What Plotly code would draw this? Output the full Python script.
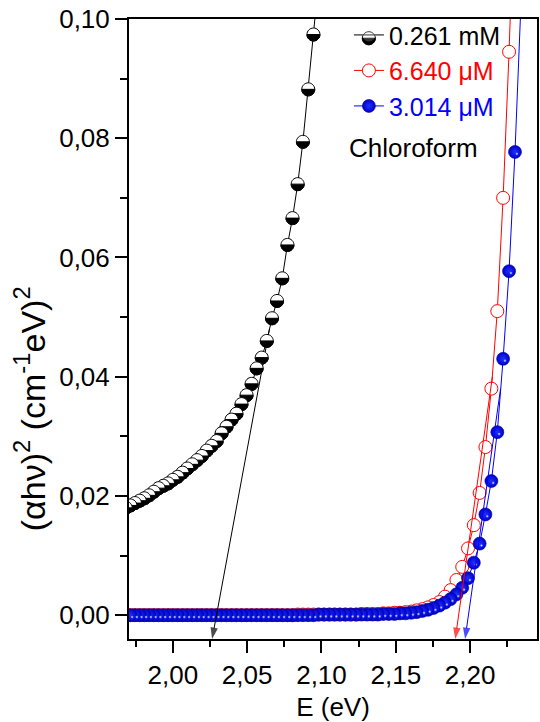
import plotly.graph_objects as go

# Photon energy grid (eV), one point per nanometre from 555 nm to 630 nm
energy = [2.2342, 2.2302, 2.2262, 2.2222, 2.2183, 2.2143, 2.2103, 2.2064, 2.2025, 2.1986,
          2.1947, 2.1908, 2.1869, 2.1831, 2.1793, 2.1754, 2.1716, 2.1678, 2.1640, 2.1603,
          2.1565, 2.1528, 2.1491, 2.1453, 2.1416, 2.1379, 2.1343, 2.1306, 2.1269, 2.1233,
          2.1197, 2.1160, 2.1124, 2.1088, 2.1053, 2.1017, 2.0981, 2.0946, 2.0911, 2.0875,
          2.0840, 2.0805, 2.0771, 2.0736, 2.0701, 2.0667, 2.0632, 2.0598, 2.0564, 2.0530,
          2.0496, 2.0462, 2.0428, 2.0395, 2.0361, 2.0328, 2.0295, 2.0261, 2.0228, 2.0195,
          2.0163, 2.0130, 2.0097, 2.0065, 2.0032, 2.0000, 1.9968, 1.9936, 1.9904, 1.9872,
          1.9840, 1.9808, 1.9777, 1.9745, 1.9714, 1.9683]

# (alpha h nu)^2 for the three concentrations
blue_3014uM = [0.1025, 0.0777, 0.0577, 0.0430, 0.0307, 0.0225, 0.0169, 0.0120, 0.0088, 0.0062,
               0.0046, 0.0035, 0.0027, 0.0021, 0.0016, 0.0012, 0.0009, 0.0007, 0.0005, 0.0004,
               0.0003, 0.0003, 0.0002, 0.0002, 0.0002, 0.0001, 0.0001, 0.0001, 0.0001, 0.0001,
               0.0001, 0.0001, 0.0001, 0.0001, 0.0001, 0.0001, 0.0001, 0.0000, 0.0000, 0.0000,
               0.0000, 0.0000, 0.0000, 0.0000, 0.0000, 0.0000, 0.0000, 0.0000, 0.0000, 0.0000,
               0.0000, 0.0000, 0.0000, 0.0000, 0.0000, 0.0000, 0.0000, 0.0000, 0.0000, 0.0000,
               0.0000, 0.0000, 0.0000, 0.0000, 0.0000, 0.0000, 0.0000, 0.0000, 0.0000, 0.0000,
               0.0000, 0.0000, 0.0000, 0.0000, 0.0000, 0.0000]
energy_red = energy[1:]
red_6640uM = [0.1230, 0.0945, 0.0700, 0.0510, 0.0380, 0.0282, 0.0205, 0.0151, 0.0112, 0.0081,
              0.0059, 0.0042, 0.0031, 0.0022, 0.0017, 0.0013, 0.0010, 0.0008, 0.0006, 0.0005,
              0.0004, 0.0004, 0.0003, 0.0003, 0.0002, 0.0002, 0.0002, 0.0002, 0.0001, 0.0001,
              0.0001, 0.0001, 0.0001, 0.0001, 0.0001, 0.0001, 0.0001, 0.0001, 0.0001, 0.0001,
              0.0000, 0.0000, 0.0000, 0.0000, 0.0000, 0.0000, 0.0000, 0.0000, 0.0000, 0.0000,
              0.0000, 0.0000, 0.0000, 0.0000, 0.0000, 0.0000, 0.0000, 0.0000, 0.0000, 0.0000,
              0.0000, 0.0000, 0.0000, 0.0000, 0.0000, 0.0000, 0.0000, 0.0000, 0.0000, 0.0000,
              0.0000, 0.0000, 0.0000, 0.0000, 0.0000]
energy_black = energy[36:]
black_0261mM = [0.1065, 0.0974, 0.0882, 0.0794, 0.0723, 0.0666, 0.0621, 0.0565, 0.0527, 0.0498,
                0.0460, 0.0432, 0.0414, 0.0388, 0.0369, 0.0354, 0.0338, 0.0328, 0.0316, 0.0305,
                0.0292, 0.0284, 0.0276, 0.0267, 0.0260, 0.0253, 0.0246, 0.0239, 0.0232, 0.0227,
                0.0221, 0.0217, 0.0213, 0.0207, 0.0201, 0.0196, 0.0192, 0.0188, 0.0184, 0.0180]

series_names = ["0.261 mM",
                "<span style='color:#ff0000'>6.640 \u03bcM</span>",
                "<span style='color:#0000ff'>3.014 \u03bcM</span>"]

# Linear extrapolations of the absorption edge down to the energy axis
tangent_colors = ["#000000", "#ff0000", "#0000ff"]
tangent_from_x = [2.0650, 2.2150, 2.2205]
tangent_from_y = [0.0480, 0.0400, 0.0380]
tangent_to_x = [2.0264, 2.1900, 2.1966]
tangent_to_y = [-0.0040, -0.0040, -0.0040]

x_range = [1.9705, 2.245]
y_range = [-0.004, 0.100]

FONT = "Liberation Sans, Arial, sans-serif"

# Half-filled circle marker, built from cubic Bezier quarter arcs (pixel units)
R = 6.5
K = 0.5523 * R
full_circle = (f"M{R},0 C{R},{K} {K},{R} 0,{R} C{-K},{R} {-R},{K} {-R},0 "
               f"C{-R},{-K} {-K},{-R} 0,{-R} C{K},{-R} {R},{-K} {R},0 Z")
lower_half = f"M{-R},0 C{-R},{-K} {-K},{-R} 0,{-R} C{K},{-R} {R},{-K} {R},0 Z"


def half_filled(xref, yref, xa, ya, layer="above"):
    base = dict(type="path", xref=xref, yref=yref, xsizemode="pixel", ysizemode="pixel",
                xanchor=xa, yanchor=ya, layer=layer)
    return [dict(base, path=full_circle, fillcolor="white", line=dict(color="black", width=1)),
            dict(base, path=lower_half, fillcolor="black", line=dict(color="black", width=1))]


fig = go.Figure()

# --- 0.261 mM: connecting line (markers are drawn as anchored shapes below)
fig.add_trace(go.Scatter(x=energy_black, y=black_0261mM, mode="lines",
                         line=dict(color="black", width=1), showlegend=False,
                         hoverinfo="skip"))
# legend entry for the half-filled series (its symbol is drawn as a shape)
fig.add_trace(go.Scatter(x=[None], y=[None], mode="lines+markers", name=series_names[0],
                         line=dict(color="black", width=1),
                         marker=dict(symbol="circle", size=13, color="white", opacity=0,
                                     line=dict(color="black", width=0))))

# --- 6.640 uM: open red circles
fig.add_trace(go.Scatter(x=energy_red, y=red_6640uM, mode="lines+markers", name=series_names[1],
                         line=dict(color="#ff0000", width=1),
                         marker=dict(symbol="circle", size=13, color="white",
                                     line=dict(color="#ff0000", width=1))))

# --- 3.014 uM: shaded blue balls with a small highlight
fig.add_trace(go.Scatter(x=energy, y=blue_3014uM, mode="lines+markers", name=series_names[2],
                         line=dict(color="#0000ff", width=1),
                         marker=dict(symbol="circle", size=13, color="#0000c8",
                                     gradient=dict(type="radial", color="#2030ff"),
                                     line=dict(color="#0000a0", width=0.6))))
fig.add_trace(go.Scatter(x=energy, y=blue_3014uM, mode="markers",
                         marker=dict(symbol="circle", size=3, color="#3040ff",
                                     angle=-45, standoff=2.6,
                                     gradient=dict(type="radial", color="#d8deff"),
                                     line=dict(width=0)),
                         showlegend=False, hoverinfo="skip"))

# --- band-gap extrapolation lines with arrowheads at the energy axis
for c, x0, y0, x1, y1 in zip(tangent_colors, tangent_from_x, tangent_from_y,
                             tangent_to_x, tangent_to_y):
    fig.add_trace(go.Scatter(x=[x0, x1], y=[y0, y1], mode="lines+markers",
                             line=dict(color=c, width=1),
                             marker=dict(symbol=["circle", "arrow"], size=[0, 12],
                                         angleref="previous", color=c, line=dict(width=0)),
                             cliponaxis=False, showlegend=False, hoverinfo="skip"))

# half-filled markers anchored at each data point
shapes = []
for ex, val in zip(energy_black, black_0261mM):
    shapes += half_filled("x", "y", ex, val)
# legend symbol of the first entry
shapes += half_filled("paper", "paper", 0.5878, 0.969)

annotations = [
    dict(text="Chloroform", x=0.6976, y=0.7927, xref="paper", yref="paper",
         showarrow=False, font=dict(family=FONT, size=26, color="black"),
         xanchor="center", yanchor="middle"),
    dict(text="(\u03b1h\u03bd)<sup>2</sup> (cm<sup>-1</sup>eV)<sup>2</sup>",
         x=-0.243, y=0.372, xref="paper", yref="paper", textangle=-90,
         showarrow=False, font=dict(family=FONT, size=34, color="black"),
         xanchor="center", yanchor="middle"),
]

axis_common = dict(showgrid=False, zeroline=False, showline=True, linecolor="black",
                   linewidth=2, mirror=True, ticks="outside", ticklen=12, tickwidth=2,
                   tickcolor="black", tickformat=".2f",
                   tickfont=dict(family=FONT, size=26, color="black"))

fig.update_layout(
    width=540, height=722,
    margin=dict(l=129, r=1, t=19, b=83),
    plot_bgcolor="white", paper_bgcolor="white",
    separators=", ",
    font=dict(family=FONT, size=26, color="black"),
    xaxis=dict(range=x_range, tick0=2.0, dtick=0.05,
               minor=dict(ticks="outside", ticklen=6, tickwidth=2, tickcolor="black",
                          dtick=0.025, tick0=2.0, showgrid=False),
               title=dict(text="E (eV)", font=dict(family=FONT, size=26), standoff=12),
               **axis_common),
    yaxis=dict(range=y_range, tick0=0.0, dtick=0.02,
               minor=dict(ticks="outside", ticklen=7, tickwidth=2, tickcolor="black",
                          dtick=0.01, tick0=0.0, showgrid=False),
               **axis_common),
    legend=dict(x=0.539, y=1.011, xanchor="left", yanchor="top", bgcolor="rgba(0,0,0,0)",
                borderwidth=0, font=dict(family=FONT, size=25, color="black"),
                tracegroupgap=0),
    shapes=shapes,
    annotations=annotations,
)

fig.write_html("out.html")
